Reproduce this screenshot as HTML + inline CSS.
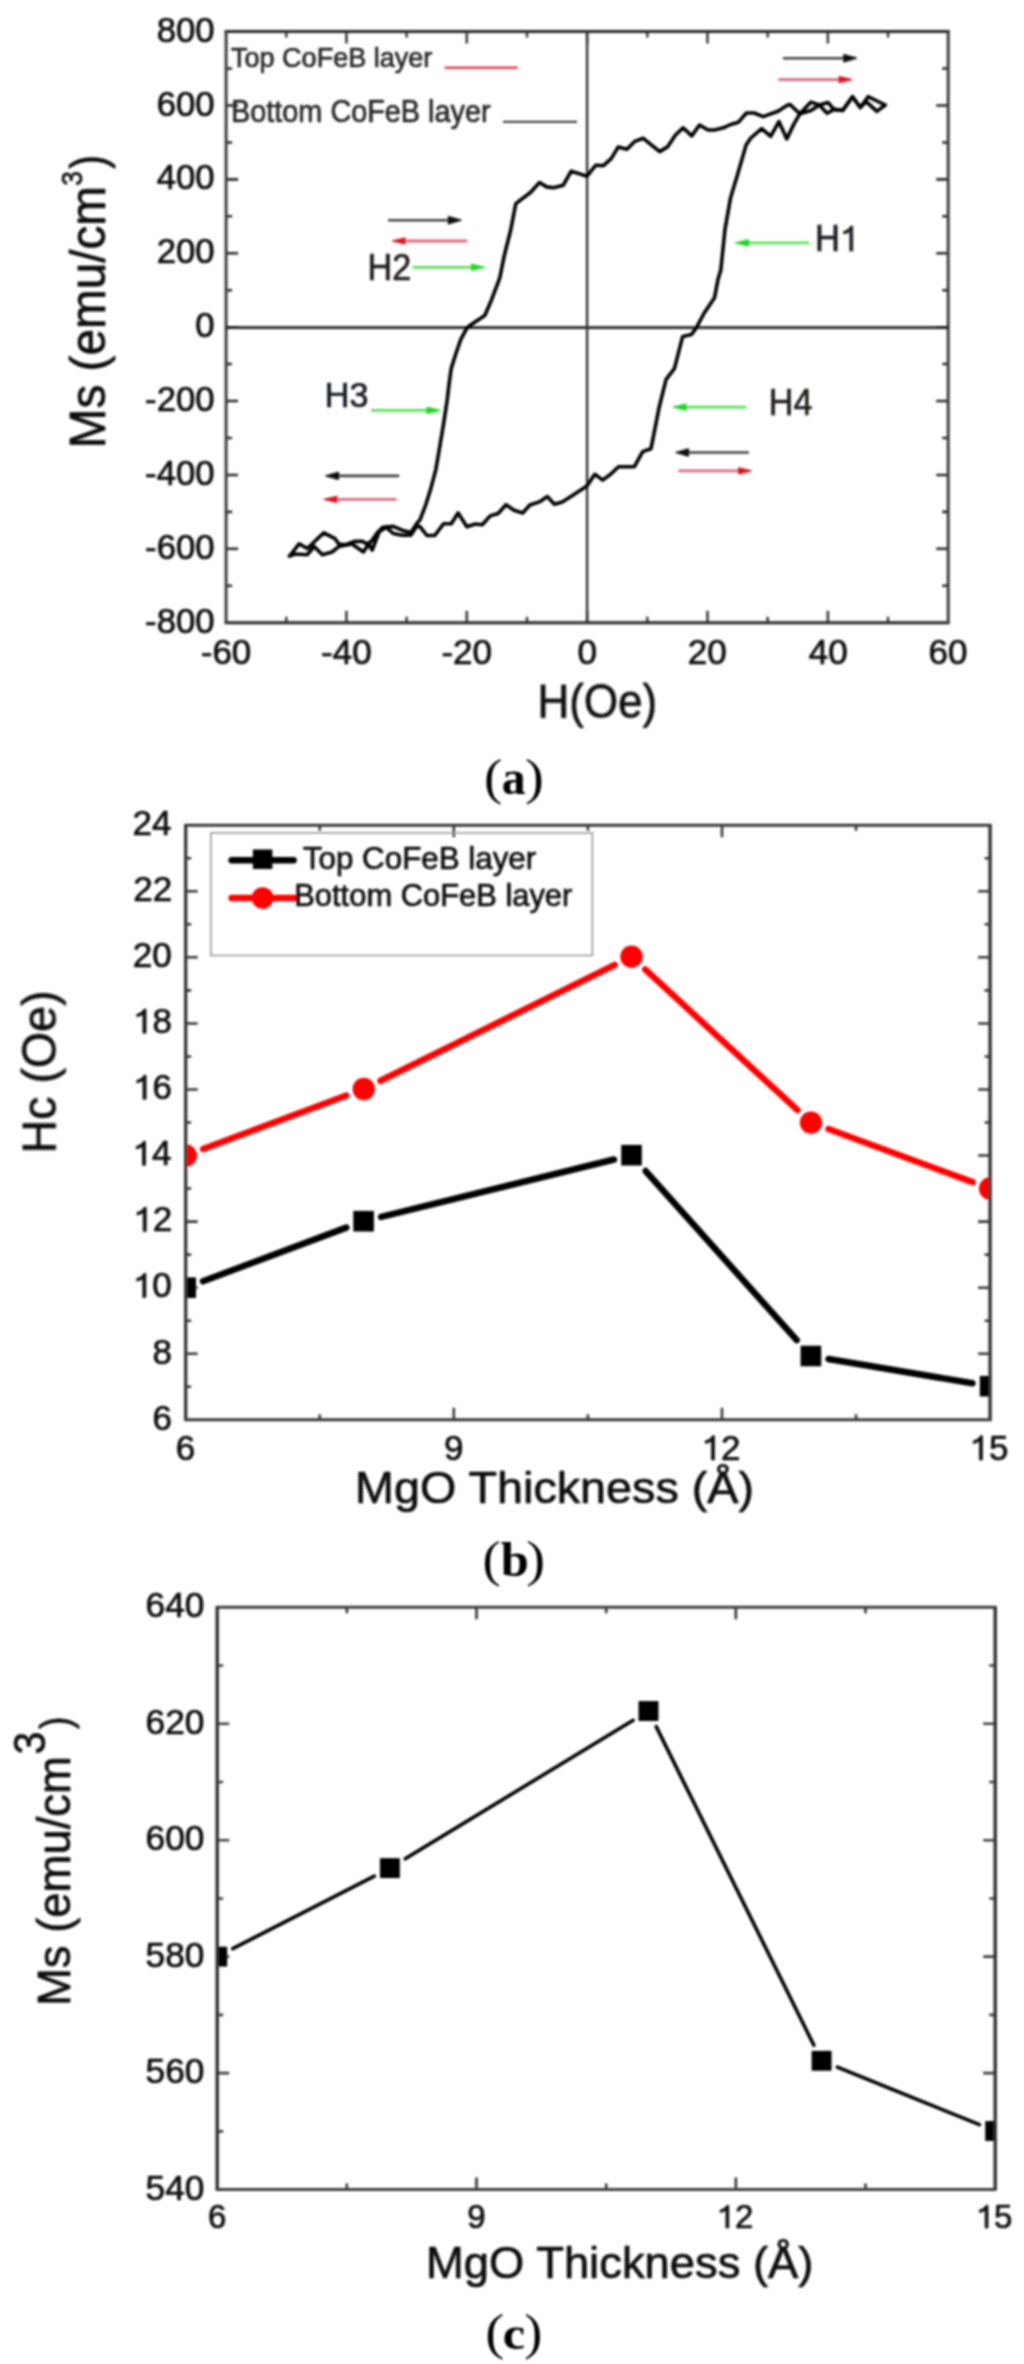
<!DOCTYPE html>
<html><head><meta charset="utf-8"><title>Figure</title>
<style>html,body{margin:0;padding:0;background:#fff;overflow:hidden;}svg{display:block;}#w{will-change:transform;width:1024px;height:2364px;}</style>
</head><body>
<div id="w"><svg width="1024" height="2364" viewBox="0 0 1024 2364">
<rect width="1024" height="2364" fill="#fff"/>
<defs>
<filter id="soft" filterUnits="userSpaceOnUse" x="0" y="0" width="1024" height="2364"><feGaussianBlur stdDeviation="0.8"/></filter>
<clipPath id="clipb"><rect x="185.7" y="825.2" width="804.4000000000001" height="594.5999999999999"/></clipPath>
<clipPath id="clipc"><rect x="217.2" y="1607.2" width="778.0" height="582.3999999999999"/></clipPath>
</defs>
<g filter="url(#soft)">
<path d="M286.27 622.70V616.70M286.27 31.60V37.60M346.45 622.70V610.70M346.45 31.60V43.60M406.62 622.70V616.70M406.62 31.60V37.60M466.80 622.70V610.70M466.80 31.60V43.60M526.98 622.70V616.70M526.98 31.60V37.60M587.15 622.70V610.70M587.15 31.60V43.60M647.33 622.70V616.70M647.33 31.60V37.60M707.50 622.70V610.70M707.50 31.60V43.60M767.68 622.70V616.70M767.68 31.60V37.60M827.85 622.70V610.70M827.85 31.60V43.60M888.02 622.70V616.70M888.02 31.60V37.60" stroke="#3c3c3c" stroke-width="2.55" fill="none"/>
<path d="M226.10 585.76H232.10M948.20 585.76H942.20M226.10 548.81H238.10M948.20 548.81H936.20M226.10 511.87H232.10M948.20 511.87H942.20M226.10 474.93H238.10M948.20 474.93H936.20M226.10 437.98H232.10M948.20 437.98H942.20M226.10 401.04H238.10M948.20 401.04H936.20M226.10 364.09H232.10M948.20 364.09H942.20M226.10 327.15H238.10M948.20 327.15H936.20M226.10 290.21H232.10M948.20 290.21H942.20M226.10 253.26H238.10M948.20 253.26H936.20M226.10 216.32H232.10M948.20 216.32H942.20M226.10 179.38H238.10M948.20 179.38H936.20M226.10 142.43H232.10M948.20 142.43H942.20M226.10 105.49H238.10M948.20 105.49H936.20M226.10 68.54H232.10M948.20 68.54H942.20" stroke="#2a2a2a" stroke-width="2.55" fill="none"/>
<path d="M224.60 31.60H949.70M224.60 622.70H949.70" stroke="#2a2a2a" stroke-width="3.0" fill="none"/>
<path d="M226.10 31.60V622.70M948.20 31.60V622.70" stroke="#3c3c3c" stroke-width="3.0" fill="none"/>
<path d="M226.1 327.6H948.2" stroke="#222" stroke-width="2.8" fill="none"/>
<path d="M587.1 31.6V622.7" stroke="#333" stroke-width="2.4" fill="none"/>
<g transform="translate(145.12,632.80) scale(1.0000,1)"><text font-size="34.70" font-family="Liberation Sans" fill="#111111" stroke="#111111" stroke-width="0.7" stroke-linejoin="round">-800</text></g>
<g transform="translate(145.12,558.91) scale(1.0000,1)"><text font-size="34.70" font-family="Liberation Sans" fill="#111111" stroke="#111111" stroke-width="0.7" stroke-linejoin="round">-600</text></g>
<g transform="translate(145.12,485.03) scale(1.0000,1)"><text font-size="34.70" font-family="Liberation Sans" fill="#111111" stroke="#111111" stroke-width="0.7" stroke-linejoin="round">-400</text></g>
<g transform="translate(145.12,411.14) scale(1.0000,1)"><text font-size="34.70" font-family="Liberation Sans" fill="#111111" stroke="#111111" stroke-width="0.7" stroke-linejoin="round">-200</text></g>
<g transform="translate(195.26,337.25) scale(1.0000,1)"><text font-size="34.70" font-family="Liberation Sans" fill="#111111" stroke="#111111" stroke-width="0.7" stroke-linejoin="round">0</text></g>
<g transform="translate(156.67,263.36) scale(1.0000,1)"><text font-size="34.70" font-family="Liberation Sans" fill="#111111" stroke="#111111" stroke-width="0.7" stroke-linejoin="round">200</text></g>
<g transform="translate(156.67,189.47) scale(1.0000,1)"><text font-size="34.70" font-family="Liberation Sans" fill="#111111" stroke="#111111" stroke-width="0.7" stroke-linejoin="round">400</text></g>
<g transform="translate(156.67,115.59) scale(1.0000,1)"><text font-size="34.70" font-family="Liberation Sans" fill="#111111" stroke="#111111" stroke-width="0.7" stroke-linejoin="round">600</text></g>
<g transform="translate(156.67,41.70) scale(1.0000,1)"><text font-size="34.70" font-family="Liberation Sans" fill="#111111" stroke="#111111" stroke-width="0.7" stroke-linejoin="round">800</text></g>
<g transform="translate(200.72,664.00) scale(1.0000,1)"><text font-size="35.00" font-family="Liberation Sans" fill="#111111" stroke="#111111" stroke-width="0.7" stroke-linejoin="round">-60</text></g>
<g transform="translate(321.07,664.00) scale(1.0000,1)"><text font-size="35.00" font-family="Liberation Sans" fill="#111111" stroke="#111111" stroke-width="0.7" stroke-linejoin="round">-40</text></g>
<g transform="translate(441.42,664.00) scale(1.0000,1)"><text font-size="35.00" font-family="Liberation Sans" fill="#111111" stroke="#111111" stroke-width="0.7" stroke-linejoin="round">-20</text></g>
<g transform="translate(577.42,664.00) scale(1.0000,1)"><text font-size="35.00" font-family="Liberation Sans" fill="#111111" stroke="#111111" stroke-width="0.7" stroke-linejoin="round">0</text></g>
<g transform="translate(687.85,664.00) scale(1.0000,1)"><text font-size="35.00" font-family="Liberation Sans" fill="#111111" stroke="#111111" stroke-width="0.7" stroke-linejoin="round">20</text></g>
<g transform="translate(808.67,664.00) scale(1.0000,1)"><text font-size="35.00" font-family="Liberation Sans" fill="#111111" stroke="#111111" stroke-width="0.7" stroke-linejoin="round">40</text></g>
<g transform="translate(928.53,664.00) scale(1.0000,1)"><text font-size="35.00" font-family="Liberation Sans" fill="#111111" stroke="#111111" stroke-width="0.7" stroke-linejoin="round">60</text></g>
<g transform="translate(537.50,717.70) scale(0.9006,1)"><text font-size="48.80" font-family="Liberation Sans" fill="#111111" stroke="#111111" stroke-width="0.7" stroke-linejoin="round">H(Oe)</text></g>
<g transform="translate(104.70,448.31) rotate(-90) scale(0.9660,1)"><text font-size="49.40" font-family="Liberation Sans" fill="#111111" stroke="#111111" stroke-width="0.7" stroke-linejoin="round">Ms (emu/cm</text></g>
<g transform="translate(81.70,185.80) rotate(-90) scale(0.9000,1)"><text font-size="29.30" font-family="Liberation Sans" fill="#111111" stroke="#111111" stroke-width="0.7" stroke-linejoin="round">3</text></g>
<g transform="translate(104.70,168.65) rotate(-90) scale(0.8403,1)"><text font-size="49.40" font-family="Liberation Sans" fill="#111111" stroke="#111111" stroke-width="0.7" stroke-linejoin="round">)</text></g>
<g transform="translate(231.00,67.30) scale(0.9800,1)"><text font-size="27.60" font-family="Liberation Sans" fill="#2a2a2a" stroke="#2a2a2a" stroke-width="0.7" stroke-linejoin="round">Top CoFeB layer</text></g>
<g transform="translate(231.04,121.50) scale(0.9069,1)"><text font-size="31.80" font-family="Liberation Sans" fill="#2a2a2a" stroke="#2a2a2a" stroke-width="0.7" stroke-linejoin="round">Bottom CoFeB layer</text></g>
<line x1="444.6" y1="67.7" x2="517.5" y2="67.7" stroke="#e8404c" stroke-width="2.4"/>
<line x1="503" y1="121.9" x2="577" y2="121.9" stroke="#4a4a4a" stroke-width="2.4"/>
<line x1="782.9" y1="58.2" x2="845.8" y2="58.2" stroke="#454545" stroke-width="2.6"/>
<path d="M856.5 58.2L843.8 54.6L843.8 61.8Z" fill="#111111" stroke="#111111" stroke-width="1.2" stroke-linejoin="round"/>
<line x1="778.2" y1="79.6" x2="841.1" y2="79.6" stroke="#dc6a7c" stroke-width="2.8"/>
<path d="M851.8 79.6L839.1 76.6L839.1 82.6Z" fill="#d8141f" stroke="#d8141f" stroke-width="1.2" stroke-linejoin="round"/>
<line x1="388.0" y1="220.2" x2="450.4" y2="220.2" stroke="#454545" stroke-width="2.6"/>
<path d="M461.1 220.2L448.4 216.6L448.4 223.8Z" fill="#111111" stroke="#111111" stroke-width="1.2" stroke-linejoin="round"/>
<line x1="467.3" y1="241.0" x2="402.9" y2="241.0" stroke="#dc6a7c" stroke-width="2.8"/>
<path d="M392.2 241.0L404.9 238.0L404.9 244.0Z" fill="#d8141f" stroke="#d8141f" stroke-width="1.2" stroke-linejoin="round"/>
<line x1="412.6" y1="267.3" x2="473.6" y2="267.3" stroke="#5ae35a" stroke-width="2.7"/>
<path d="M484.3 267.3L471.6 264.3L471.6 270.3Z" fill="#22d622" stroke="#22d622" stroke-width="1.2" stroke-linejoin="round"/>
<line x1="809.3" y1="242.8" x2="746.3" y2="242.8" stroke="#5ae35a" stroke-width="2.7"/>
<path d="M735.6 242.8L748.3 239.8L748.3 245.8Z" fill="#22d622" stroke="#22d622" stroke-width="1.2" stroke-linejoin="round"/>
<line x1="371.1" y1="410.3" x2="429.1" y2="410.3" stroke="#5ae35a" stroke-width="2.7"/>
<path d="M439.8 410.3L427.1 407.3L427.1 413.3Z" fill="#22d622" stroke="#22d622" stroke-width="1.2" stroke-linejoin="round"/>
<line x1="746.3" y1="407.1" x2="684.0" y2="407.1" stroke="#5ae35a" stroke-width="2.7"/>
<path d="M673.3 407.1L686.0 404.1L686.0 410.1Z" fill="#22d622" stroke="#22d622" stroke-width="1.2" stroke-linejoin="round"/>
<line x1="748.8" y1="452.5" x2="686.5" y2="452.5" stroke="#454545" stroke-width="2.6"/>
<path d="M675.8 452.5L688.5 448.9L688.5 456.1Z" fill="#111111" stroke="#111111" stroke-width="1.2" stroke-linejoin="round"/>
<line x1="678.3" y1="470.8" x2="740.6" y2="470.8" stroke="#dc6a7c" stroke-width="2.8"/>
<path d="M751.3 470.8L738.6 467.8L738.6 473.8Z" fill="#d8141f" stroke="#d8141f" stroke-width="1.2" stroke-linejoin="round"/>
<line x1="399.2" y1="475.9" x2="336.5" y2="475.9" stroke="#454545" stroke-width="2.6"/>
<path d="M325.8 475.9L338.5 472.3L338.5 479.5Z" fill="#111111" stroke="#111111" stroke-width="1.2" stroke-linejoin="round"/>
<line x1="396.5" y1="499.4" x2="334.9" y2="499.4" stroke="#dc6a7c" stroke-width="2.8"/>
<path d="M324.2 499.4L336.9 496.4L336.9 502.4Z" fill="#d8141f" stroke="#d8141f" stroke-width="1.2" stroke-linejoin="round"/>
<g transform="translate(814.97,251.00) scale(0.9521,1)"><text font-size="36.30" font-family="Liberation Sans" fill="#1e1e24" stroke="#1e1e24" stroke-width="0.7" stroke-linejoin="round">H </text><path transform="translate(26.21,0) scale(0.01772,-0.01772)" d="M763,0L583,0L583,1102C520,1050 400,990 223,960L223,1110C420,1160 560,1270 641,1409L763,1409Z" fill="#1e1e24" stroke="#1e1e24" stroke-width="39.5" stroke-linejoin="round"/></g>
<g transform="translate(367.50,280.20) scale(0.9399,1)"><text font-size="36.30" font-family="Liberation Sans" fill="#221e1a" stroke="#221e1a" stroke-width="0.7" stroke-linejoin="round">H2</text></g>
<g transform="translate(324.70,406.60) scale(0.9527,1)"><text font-size="35.90" font-family="Liberation Sans" fill="#151a28" stroke="#151a28" stroke-width="0.7" stroke-linejoin="round">H3</text></g>
<g transform="translate(768.80,414.90) scale(0.9268,1)"><text font-size="36.80" font-family="Liberation Sans" fill="#221e1a" stroke="#221e1a" stroke-width="0.7" stroke-linejoin="round">H4</text></g>
<polyline points="885.2,105.0 876.9,111.4 866.2,101.6 860.3,107.5 852.5,96.7 842.7,110.4 834.0,109.4 827.1,113.3 819.3,105.0 811.0,110.6 799.8,113.8 790.0,104.5 787.7,105.0 778.0,111.3 763.1,116.6 754.3,113.0 746.4,113.0 738.5,122.2 731.6,124.2 723.4,127.8 714.4,130.0 708.1,130.0 699.5,125.0 691.7,135.9 683.1,127.8 675.3,135.2 667.5,146.9 659.7,151.6 643.3,138.3 634.7,141.4 626.9,149.2 618.3,146.9 611.2,158.6 603.4,165.6 595.6,165.3 587.0,176.2 571.2,171.1 563.3,185.2 553.6,187.8 546.6,186.9 539.5,182.5 530.7,192.2 515.8,203.6 510.7,230.0 503.9,257.3 499.8,277.9 491.6,299.7 484.8,315.5 480.7,318.2 472.5,323.7 467.0,327.8 460.8,339.4 456.1,353.0 451.3,368.1 449.2,383.1 447.2,400.0 443.5,424.2 438.6,453.5 435.7,470.1 430.8,488.6 425.9,504.3 420.0,519.9 417.9,522.0 410.8,532.6 403.8,530.8 393.3,526.4 382.7,527.3 377.5,532.6 371.3,541.4 366.9,544.0 362.5,541.4 354.6,541.4 344.9,544.9 338.8,544.0 334.7,538.3 323.8,532.8 307.3,548.5 299.1,543.8 289.6,556.0" fill="none" stroke="#000" stroke-width="3.6" stroke-linejoin="round" stroke-linecap="round"/>
<polyline points="289.6,556.0 295.0,554.0 307.3,554.7 314.2,546.5 322.4,554.7 332.0,552.0 338.8,546.6 352.0,544.0 363.4,551.9 368.7,544.0 372.2,550.1 379.2,531.7 386.2,527.3 393.3,533.5 402.0,535.2 410.8,535.2 417.1,525.7 420.0,526.7 426.9,535.5 434.7,535.5 443.5,523.8 451.3,523.8 458.1,513.0 466.9,526.7 475.3,524.0 482.3,524.7 490.2,515.9 498.1,513.5 506.0,504.7 514.0,510.3 522.7,513.0 529.8,505.0 539.4,501.9 547.3,496.6 554.4,504.2 562.3,501.9 575.5,493.6 586.9,486.1 594.8,474.3 602.7,480.1 610.6,474.3 618.5,466.7 634.4,466.7 642.7,451.6 651.0,448.7 659.3,406.7 666.1,379.4 674.4,368.6 682.7,336.4 691.5,334.5 696.4,327.6 704.2,313.0 714.5,297.8 717.9,279.8 720.8,270.0 725.0,229.4 730.5,198.1 737.5,174.7 746.1,145.0 750.8,138.0 761.7,128.6 770.7,136.4 778.9,121.6 786.8,138.9 793.9,124.1 799.8,113.8 811.0,102.1 819.3,105.0 828.1,102.6 834.0,109.4 842.7,110.4 852.5,96.7 860.3,107.5 868.1,96.7 885.2,105.0" fill="none" stroke="#000" stroke-width="3.6" stroke-linejoin="round" stroke-linecap="round"/>
<g transform="translate(483.89,793.77) scale(0.5486,0.5039)"><text font-size="100.0" font-family="Liberation Serif" fill="#000">(</text></g>
<g transform="translate(501.77,793.61) scale(0.4790,0.4885)"><text font-size="100.0" font-family="Liberation Serif" font-weight="bold" fill="#000">a</text></g>
<g transform="translate(524.98,793.77) scale(0.5681,0.5039)"><text font-size="100.0" font-family="Liberation Serif" fill="#000">)</text></g>
<path d="M319.77 1419.80V1414.30M319.77 825.20V830.70M453.83 1419.80V1407.80M453.83 825.20V837.20M587.90 1419.80V1414.30M587.90 825.20V830.70M721.97 1419.80V1407.80M721.97 825.20V837.20M856.03 1419.80V1414.30M856.03 825.20V830.70" stroke="#383838" stroke-width="2.55" fill="none"/>
<path d="M185.70 1386.77H191.20M990.10 1386.77H984.60M185.70 1353.73H197.70M990.10 1353.73H978.10M185.70 1320.70H191.20M990.10 1320.70H984.60M185.70 1287.67H197.70M990.10 1287.67H978.10M185.70 1254.63H191.20M990.10 1254.63H984.60M185.70 1221.60H197.70M990.10 1221.60H978.10M185.70 1188.57H191.20M990.10 1188.57H984.60M185.70 1155.53H197.70M990.10 1155.53H978.10M185.70 1122.50H191.20M990.10 1122.50H984.60M185.70 1089.47H197.70M990.10 1089.47H978.10M185.70 1056.43H191.20M990.10 1056.43H984.60M185.70 1023.40H197.70M990.10 1023.40H978.10M185.70 990.37H191.20M990.10 990.37H984.60M185.70 957.33H197.70M990.10 957.33H978.10M185.70 924.30H191.20M990.10 924.30H984.60M185.70 891.27H197.70M990.10 891.27H978.10M185.70 858.23H191.20M990.10 858.23H984.60" stroke="#383838" stroke-width="2.55" fill="none"/>
<path d="M184.20 825.20H991.60M184.20 1419.80H991.60" stroke="#383838" stroke-width="3.0" fill="none"/>
<path d="M185.70 825.20V1419.80M990.10 825.20V1419.80" stroke="#383838" stroke-width="3.0" fill="none"/>
<g transform="translate(152.48,1429.60) scale(1.0000,1)"><text font-size="35.00" font-family="Liberation Sans" fill="#111111" stroke="#111111" stroke-width="0.7" stroke-linejoin="round">6</text></g>
<g transform="translate(152.45,1363.53) scale(1.0000,1)"><text font-size="35.00" font-family="Liberation Sans" fill="#111111" stroke="#111111" stroke-width="0.7" stroke-linejoin="round">8</text></g>
<g transform="translate(132.84,1297.47) scale(1.0000,1)"><text font-size="35.00" font-family="Liberation Sans" fill="#111111" stroke="#111111" stroke-width="0.7" stroke-linejoin="round"> 0</text><path transform="translate(0.00,0) scale(0.01709,-0.01709)" d="M763,0L583,0L583,1102C520,1050 400,990 223,960L223,1110C420,1160 560,1270 641,1409L763,1409Z" fill="#111111" stroke="#111111" stroke-width="41.0" stroke-linejoin="round"/></g>
<g transform="translate(133.23,1231.40) scale(1.0000,1)"><text font-size="35.00" font-family="Liberation Sans" fill="#111111" stroke="#111111" stroke-width="0.7" stroke-linejoin="round"> 2</text><path transform="translate(0.00,0) scale(0.01709,-0.01709)" d="M763,0L583,0L583,1102C520,1050 400,990 223,960L223,1110C420,1160 560,1270 641,1409L763,1409Z" fill="#111111" stroke="#111111" stroke-width="41.0" stroke-linejoin="round"/></g>
<g transform="translate(132.50,1165.33) scale(1.0000,1)"><text font-size="35.00" font-family="Liberation Sans" fill="#111111" stroke="#111111" stroke-width="0.7" stroke-linejoin="round"> 4</text><path transform="translate(0.00,0) scale(0.01709,-0.01709)" d="M763,0L583,0L583,1102C520,1050 400,990 223,960L223,1110C420,1160 560,1270 641,1409L763,1409Z" fill="#111111" stroke="#111111" stroke-width="41.0" stroke-linejoin="round"/></g>
<g transform="translate(133.02,1099.27) scale(1.0000,1)"><text font-size="35.00" font-family="Liberation Sans" fill="#111111" stroke="#111111" stroke-width="0.7" stroke-linejoin="round"> 6</text><path transform="translate(0.00,0) scale(0.01709,-0.01709)" d="M763,0L583,0L583,1102C520,1050 400,990 223,960L223,1110C420,1160 560,1270 641,1409L763,1409Z" fill="#111111" stroke="#111111" stroke-width="41.0" stroke-linejoin="round"/></g>
<g transform="translate(132.99,1033.20) scale(1.0000,1)"><text font-size="35.00" font-family="Liberation Sans" fill="#111111" stroke="#111111" stroke-width="0.7" stroke-linejoin="round"> 8</text><path transform="translate(0.00,0) scale(0.01709,-0.01709)" d="M763,0L583,0L583,1102C520,1050 400,990 223,960L223,1110C420,1160 560,1270 641,1409L763,1409Z" fill="#111111" stroke="#111111" stroke-width="41.0" stroke-linejoin="round"/></g>
<g transform="translate(132.84,967.13) scale(1.0000,1)"><text font-size="35.00" font-family="Liberation Sans" fill="#111111" stroke="#111111" stroke-width="0.7" stroke-linejoin="round">20</text></g>
<g transform="translate(133.23,901.07) scale(1.0000,1)"><text font-size="35.00" font-family="Liberation Sans" fill="#111111" stroke="#111111" stroke-width="0.7" stroke-linejoin="round">22</text></g>
<g transform="translate(132.50,835.00) scale(1.0000,1)"><text font-size="35.00" font-family="Liberation Sans" fill="#111111" stroke="#111111" stroke-width="0.7" stroke-linejoin="round">24</text></g>
<g transform="translate(175.85,1459.90) scale(1.0000,1)"><text font-size="35.00" font-family="Liberation Sans" fill="#111111" stroke="#111111" stroke-width="0.7" stroke-linejoin="round">6</text></g>
<g transform="translate(444.10,1459.90) scale(1.0000,1)"><text font-size="35.00" font-family="Liberation Sans" fill="#111111" stroke="#111111" stroke-width="0.7" stroke-linejoin="round">9</text></g>
<g transform="translate(701.48,1459.90) scale(1.0000,1)"><text font-size="35.00" font-family="Liberation Sans" fill="#111111" stroke="#111111" stroke-width="0.7" stroke-linejoin="round"> 2</text><path transform="translate(0.00,0) scale(0.01709,-0.01709)" d="M763,0L583,0L583,1102C520,1050 400,990 223,960L223,1110C420,1160 560,1270 641,1409L763,1409Z" fill="#111111" stroke="#111111" stroke-width="41.0" stroke-linejoin="round"/></g>
<g transform="translate(969.47,1459.90) scale(1.0000,1)"><text font-size="35.00" font-family="Liberation Sans" fill="#111111" stroke="#111111" stroke-width="0.7" stroke-linejoin="round"> 5</text><path transform="translate(0.00,0) scale(0.01709,-0.01709)" d="M763,0L583,0L583,1102C520,1050 400,990 223,960L223,1110C420,1160 560,1270 641,1409L763,1409Z" fill="#111111" stroke="#111111" stroke-width="41.0" stroke-linejoin="round"/></g>
<g transform="translate(355.07,1502.70) scale(1.0339,1)"><text font-size="45.20" font-family="Liberation Sans" fill="#111111" stroke="#111111" stroke-width="0.7" stroke-linejoin="round">MgO Thickness (Å)</text></g>
<g transform="translate(55.70,1153.42) rotate(-90) scale(0.9609,1)"><text font-size="48.50" font-family="Liberation Sans" fill="#111111" stroke="#111111" stroke-width="0.7" stroke-linejoin="round">Hc (Oe)</text></g>
<g transform="translate(482.50,1576.27) scale(0.5447,0.5039)"><text font-size="100.0" font-family="Liberation Serif" fill="#000">(</text></g>
<g transform="translate(500.74,1576.32) scale(0.5050,0.4815)"><text font-size="100.0" font-family="Liberation Serif" font-weight="bold" fill="#000">b</text></g>
<g transform="translate(526.28,1576.27) scale(0.5681,0.5039)"><text font-size="100.0" font-family="Liberation Serif" fill="#000">)</text></g>
<rect x="210.9" y="832.9" width="381.5" height="122.6" fill="none" stroke="#9a9a9a" stroke-width="1.6"/>
<line x1="231.6" y1="860.3" x2="293.6" y2="860.3" stroke="#000" stroke-width="6.5" stroke-linecap="round"/>
<rect x="252.9" y="849.5" width="19.5" height="19.5" fill="#000"/>
<line x1="231.6" y1="898" x2="296.0" y2="898" stroke="#ff0000" stroke-width="6.5" stroke-linecap="round"/>
<circle cx="262.6" cy="898" r="10.8" fill="#ff0000"/>
<g transform="translate(302.91,869.00) scale(1.0041,1)"><text font-size="31.20" font-family="Liberation Sans" fill="#111111" stroke="#111111" stroke-width="0.7" stroke-linejoin="round">Top CoFeB layer</text></g>
<g transform="translate(294.27,906.20) scale(1.0097,1)"><text font-size="30.60" font-family="Liberation Sans" fill="#111111" stroke="#111111" stroke-width="0.7" stroke-linejoin="round">Bottom CoFeB layer</text></g>
<g clip-path="url(#clipb)"><path d="M203.17 1149.01L346.33 1095.53M380.52 1080.74L614.78 964.96M645.20 969.36L797.30 1109.94M828.50 1129.05L972.60 1182.12" stroke="#ff0000" stroke-width="6.5" stroke-linecap="round" fill="none"/><circle cx="185.70" cy="1155.53" r="11.2" fill="#ff0000"/><circle cx="363.80" cy="1089.00" r="11.2" fill="#ff0000"/><circle cx="631.50" cy="956.70" r="11.2" fill="#ff0000"/><circle cx="811.00" cy="1122.60" r="11.2" fill="#ff0000"/><circle cx="990.10" cy="1188.57" r="11.2" fill="#ff0000"/></g>
<g clip-path="url(#clipb)"><path d="M202.98 1281.21L346.32 1227.66M381.13 1216.88L613.97 1159.52M645.67 1171.06L796.73 1340.14M828.55 1358.97L972.45 1383.23" stroke="#000000" stroke-width="6.5" stroke-linecap="round" fill="none"/><rect x="175.40" y="1277.37" width="20.6" height="20.6" fill="#000000"/><rect x="353.30" y="1210.90" width="20.6" height="20.6" fill="#000000"/><rect x="621.20" y="1144.90" width="20.6" height="20.6" fill="#000000"/><rect x="800.60" y="1345.70" width="20.6" height="20.6" fill="#000000"/><rect x="979.80" y="1375.90" width="20.6" height="20.6" fill="#000000"/></g>
<path d="M185.70 825.20V1419.80M990.10 825.20V1419.80" stroke="#383838" stroke-width="3.0" fill="none"/>
<path d="M346.87 2189.60V2183.60M346.87 1607.20V1613.20M476.53 2189.60V2177.60M476.53 1607.20V1619.20M606.20 2189.60V2183.60M606.20 1607.20V1613.20M735.87 2189.60V2177.60M735.87 1607.20V1619.20M865.53 2189.60V2183.60M865.53 1607.20V1613.20" stroke="#303030" stroke-width="2.55" fill="none"/>
<path d="M217.20 2131.36H223.20M995.20 2131.36H989.20M217.20 2073.12H229.20M995.20 2073.12H983.20M217.20 2014.88H223.20M995.20 2014.88H989.20M217.20 1956.64H229.20M995.20 1956.64H983.20M217.20 1898.40H223.20M995.20 1898.40H989.20M217.20 1840.16H229.20M995.20 1840.16H983.20M217.20 1781.92H223.20M995.20 1781.92H989.20M217.20 1723.68H229.20M995.20 1723.68H983.20M217.20 1665.44H223.20M995.20 1665.44H989.20" stroke="#404040" stroke-width="2.55" fill="none"/>
<path d="M215.70 1607.20H996.70M215.70 2189.60H996.70" stroke="#404040" stroke-width="3.0" fill="none"/>
<path d="M217.20 1607.20V2189.60M995.20 1607.20V2189.60" stroke="#303030" stroke-width="3.0" fill="none"/>
<g transform="translate(145.50,2199.60) scale(1.0000,1)"><text font-size="35.30" font-family="Liberation Sans" fill="#111111" stroke="#111111" stroke-width="0.7" stroke-linejoin="round">540</text></g>
<g transform="translate(145.50,2083.12) scale(1.0000,1)"><text font-size="35.30" font-family="Liberation Sans" fill="#111111" stroke="#111111" stroke-width="0.7" stroke-linejoin="round">560</text></g>
<g transform="translate(145.50,1966.64) scale(1.0000,1)"><text font-size="35.30" font-family="Liberation Sans" fill="#111111" stroke="#111111" stroke-width="0.7" stroke-linejoin="round">580</text></g>
<g transform="translate(145.50,1850.16) scale(1.0000,1)"><text font-size="35.30" font-family="Liberation Sans" fill="#111111" stroke="#111111" stroke-width="0.7" stroke-linejoin="round">600</text></g>
<g transform="translate(145.50,1733.68) scale(1.0000,1)"><text font-size="35.30" font-family="Liberation Sans" fill="#111111" stroke="#111111" stroke-width="0.7" stroke-linejoin="round">620</text></g>
<g transform="translate(145.50,1617.20) scale(1.0000,1)"><text font-size="35.30" font-family="Liberation Sans" fill="#111111" stroke="#111111" stroke-width="0.7" stroke-linejoin="round">640</text></g>
<g transform="translate(207.91,2228.00) scale(1.0000,1)"><text font-size="33.00" font-family="Liberation Sans" fill="#111111" stroke="#111111" stroke-width="0.7" stroke-linejoin="round">6</text></g>
<g transform="translate(467.36,2228.00) scale(1.0000,1)"><text font-size="33.00" font-family="Liberation Sans" fill="#111111" stroke="#111111" stroke-width="0.7" stroke-linejoin="round">9</text></g>
<g transform="translate(716.55,2228.00) scale(1.0000,1)"><text font-size="33.00" font-family="Liberation Sans" fill="#111111" stroke="#111111" stroke-width="0.7" stroke-linejoin="round"> 2</text><path transform="translate(0.00,0) scale(0.01611,-0.01611)" d="M763,0L583,0L583,1102C520,1050 400,990 223,960L223,1110C420,1160 560,1270 641,1409L763,1409Z" fill="#111111" stroke="#111111" stroke-width="43.4" stroke-linejoin="round"/></g>
<g transform="translate(975.75,2228.00) scale(1.0000,1)"><text font-size="33.00" font-family="Liberation Sans" fill="#111111" stroke="#111111" stroke-width="0.7" stroke-linejoin="round"> 5</text><path transform="translate(0.00,0) scale(0.01611,-0.01611)" d="M763,0L583,0L583,1102C520,1050 400,990 223,960L223,1110C420,1160 560,1270 641,1409L763,1409Z" fill="#111111" stroke="#111111" stroke-width="43.4" stroke-linejoin="round"/></g>
<g transform="translate(426.08,2277.70) scale(1.0245,1)"><text font-size="44.30" font-family="Liberation Sans" fill="#111111" stroke="#111111" stroke-width="0.7" stroke-linejoin="round">MgO Thickness (Å)</text></g>
<g transform="translate(70.30,2006.03) rotate(-90) scale(0.9714,1)"><text font-size="46.80" font-family="Liberation Sans" fill="#111111" stroke="#111111" stroke-width="0.7" stroke-linejoin="round">Ms (emu/cm</text></g>
<g transform="translate(45.20,1754.56) rotate(-90) scale(0.9102,1)"><text font-size="45.20" font-family="Liberation Sans" fill="#111111" stroke="#111111" stroke-width="0.7" stroke-linejoin="round">3</text></g>
<g transform="translate(70.10,1729.03) rotate(-90) scale(0.8817,1)"><text font-size="42.80" font-family="Liberation Sans" fill="#111111" stroke="#111111" stroke-width="0.7" stroke-linejoin="round">)</text></g>
<g transform="translate(485.30,2349.41) scale(0.5681,0.4972)"><text font-size="100.0" font-family="Liberation Serif" fill="#000">(</text></g>
<g transform="translate(502.79,2348.78) scale(0.5039,0.4688)"><text font-size="100.0" font-family="Liberation Serif" font-weight="bold" fill="#000">c</text></g>
<g transform="translate(524.26,2349.41) scale(0.5447,0.4972)"><text font-size="100.0" font-family="Liberation Serif" fill="#000">)</text></g>
<g clip-path="url(#clipc)"><path d="M232.76 1948.66L374.34 1876.08M405.23 1858.78L633.17 1720.32M656.22 1726.60L813.88 2045.20M837.39 2067.19L979.41 2124.61" stroke="#000000" stroke-width="3.6" stroke-linecap="round" fill="none"/><rect x="207.25" y="1946.69" width="19.9" height="19.9" fill="#000000"/><rect x="379.95" y="1858.15" width="19.9" height="19.9" fill="#000000"/><rect x="638.55" y="1701.05" width="19.9" height="19.9" fill="#000000"/><rect x="811.65" y="2050.85" width="19.9" height="19.9" fill="#000000"/><rect x="985.25" y="2121.05" width="19.9" height="19.9" fill="#000000"/></g>
<path d="M217.20 1607.20V2189.60M995.20 1607.20V2189.60" stroke="#303030" stroke-width="3.0" fill="none"/>
</g>
</svg></div>
</body></html>
